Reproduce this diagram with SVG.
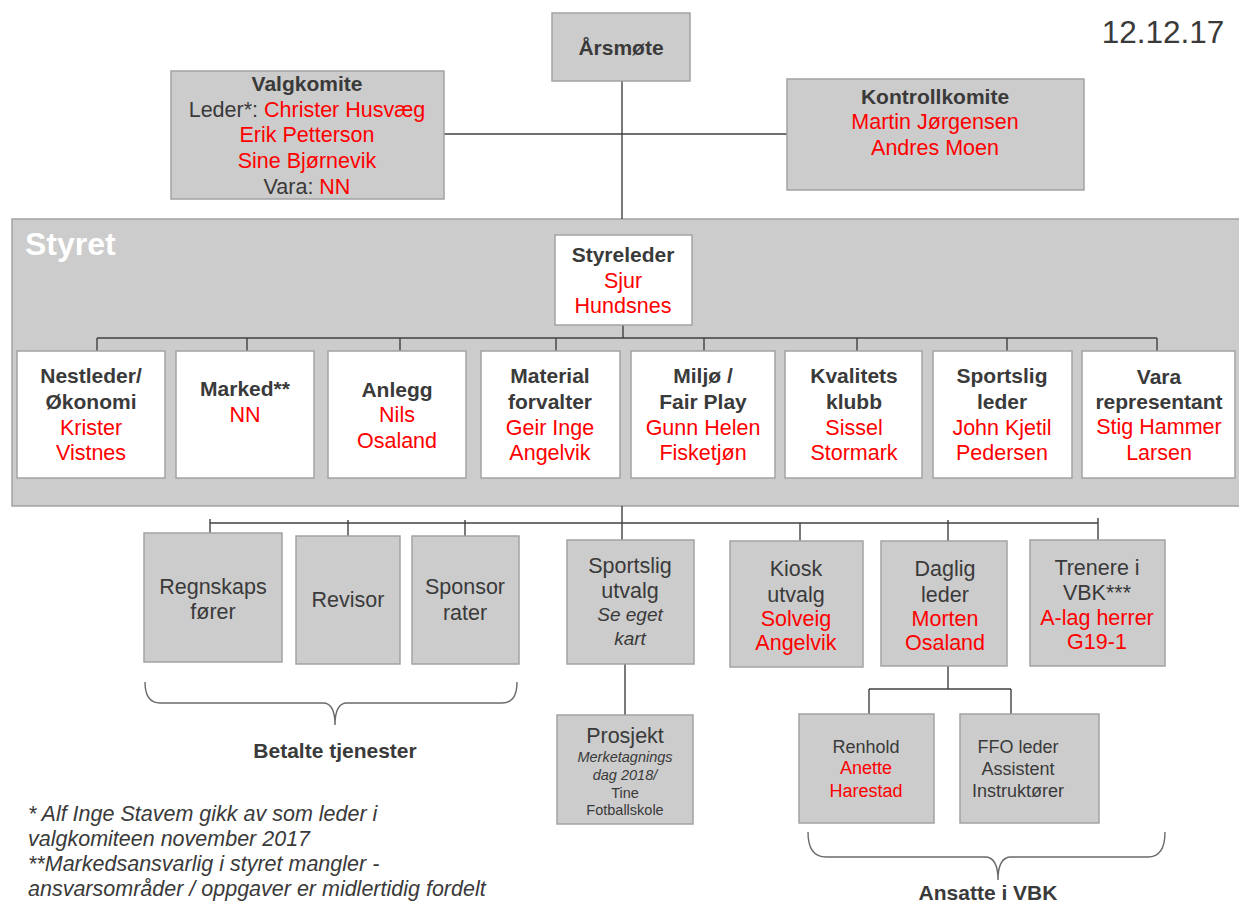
<svg xmlns="http://www.w3.org/2000/svg" width="1239" height="904" viewBox="0 0 1239 904">
<style>
text{font-family:"Liberation Sans",Arial,sans-serif;fill:#3a3a3a;text-anchor:middle}
.g{fill:#cccccc;stroke:#a3a3a3;stroke-width:1.5}
.w{fill:#ffffff;stroke:#a3a3a3;stroke-width:1.5}
.b{font-weight:bold;font-size:21px}
.t{font-size:21.5px}
.r{fill:#ff0000}
.i{font-style:italic}
.s{font-size:18px}
.xs{font-size:14.5px}
.ln{stroke:#404040;stroke-width:1.4;fill:none}
.br{stroke:#6a6a6a;stroke-width:1.4;fill:none}
</style>
<rect width="1239" height="904" fill="#ffffff"/>
<text x="1163" y="43" style="font-size:31.5px">12.12.17</text>
<rect id="styret-band" x="12" y="219" width="1240" height="287" class="g"/>
<text x="25" y="255" style="font-size:32px;font-weight:bold;fill:#ffffff;text-anchor:start">Styret</text>
<g id="connectors">
<line class="ln" x1="622" y1="81" x2="622" y2="219"/>
<line class="ln" x1="444" y1="134" x2="787" y2="134"/>
<line class="ln" x1="623" y1="325" x2="623" y2="338"/>
<line class="ln" x1="97" y1="338" x2="1157" y2="338"/>
<line class="ln" x1="97" y1="338" x2="97" y2="351"/>
<line class="ln" x1="247" y1="338" x2="247" y2="351"/>
<line class="ln" x1="400" y1="338" x2="400" y2="351"/>
<line class="ln" x1="556" y1="338" x2="556" y2="351"/>
<line class="ln" x1="704" y1="338" x2="704" y2="351"/>
<line class="ln" x1="857" y1="338" x2="857" y2="351"/>
<line class="ln" x1="1007" y1="338" x2="1007" y2="351"/>
<line class="ln" x1="1157" y1="338" x2="1157" y2="351"/>
<line class="ln" x1="622" y1="506" x2="622" y2="540"/>
<line class="ln" x1="210" y1="523" x2="1098" y2="523"/>
<line class="ln" x1="210" y1="519" x2="210" y2="533"/>
<line class="ln" x1="348" y1="520" x2="348" y2="536"/>
<line class="ln" x1="465" y1="520" x2="465" y2="536"/>
<line class="ln" x1="800" y1="523" x2="800" y2="541"/>
<line class="ln" x1="948" y1="520" x2="948" y2="541"/>
<line class="ln" x1="1098" y1="518" x2="1098" y2="540"/>
<line class="ln" x1="625" y1="664" x2="625" y2="715"/>
<line class="ln" x1="948" y1="666" x2="948" y2="689"/>
<line class="ln" x1="869" y1="689" x2="1011" y2="689"/>
<line class="ln" x1="869" y1="689" x2="869" y2="714"/>
<line class="ln" x1="1011" y1="689" x2="1011" y2="714"/>
<path class="br" d="M145,682 Q145,703 160,703 L323,703 Q335,703 335,725 Q335,703 347,703 L502,703 Q517,703 517,682"/>
<path class="br" d="M808,832 Q808,857 826,857 L985,857 Q998,857 998,880 Q998,857 1011,857 L1148,857 Q1165,857 1165,832"/>
</g>
<g id="arsmote"><rect x="552" y="13" width="138" height="68" class="g"/><text x="621" y="55" class="b">Årsmøte</text></g>
<g id="valgkomite"><rect x="171" y="71" width="273" height="128" class="g"/>
<text x="307" y="91" class="b">Valgkomite</text>
<text x="307" y="117" class="t">Leder*: <tspan class="r">Christer Husvæg</tspan></text>
<text x="307" y="142" class="t r">Erik Petterson</text>
<text x="307" y="168" class="t r">Sine Bjørnevik</text>
<text x="307" y="194" class="t">Vara: <tspan class="r">NN</tspan></text></g>
<g id="kontrollkomite"><rect x="787" y="79" width="297" height="111" class="g"/>
<text x="935" y="104" class="b">Kontrollkomite</text>
<text x="935" y="129" class="t r">Martin Jørgensen</text>
<text x="935" y="155" class="t r">Andres Moen</text></g>
<g id="styreleder"><rect x="555" y="235" width="137" height="90" class="w"/>
<text x="623" y="262" class="b">Styreleder</text>
<text x="623" y="288" class="t r">Sjur</text>
<text x="623" y="313" class="t r">Hundsnes</text></g>
<g id="nestleder"><rect x="17" y="351" width="148" height="127" class="w"/>
<text x="91" y="383" class="b">Nestleder/</text><text x="91" y="409" class="b">Økonomi</text>
<text x="91" y="435" class="t r">Krister</text><text x="91" y="460" class="t r">Vistnes</text></g>
<g id="marked"><rect x="176" y="351" width="138" height="127" class="w"/>
<text x="245" y="396" class="b">Marked**</text><text x="245" y="422" class="t r">NN</text></g>
<g id="anlegg"><rect x="328" y="351" width="138" height="127" class="w"/>
<text x="397" y="397" class="b">Anlegg</text><text x="397" y="422" class="t r">Nils</text><text x="397" y="448" class="t r">Osaland</text></g>
<g id="material"><rect x="481" y="351" width="139" height="127" class="w"/>
<text x="550" y="383" class="b">Material</text><text x="550" y="409" class="b">forvalter</text>
<text x="550" y="435" class="t r">Geir Inge</text><text x="550" y="460" class="t r">Angelvik</text></g>
<g id="miljo"><rect x="631" y="351" width="144" height="127" class="w"/>
<text x="703" y="383" class="b">Miljø /</text><text x="703" y="409" class="b">Fair Play</text>
<text x="703" y="435" class="t r">Gunn Helen</text><text x="703" y="460" class="t r">Fisketjøn</text></g>
<g id="kvalitets"><rect x="785" y="351" width="137" height="127" class="w"/>
<text x="854" y="383" class="b">Kvalitets</text><text x="854" y="409" class="b">klubb</text>
<text x="854" y="435" class="t r">Sissel</text><text x="854" y="460" class="t r">Stormark</text></g>
<g id="sportslig-leder"><rect x="933" y="351" width="139" height="127" class="w"/>
<text x="1002" y="383" class="b">Sportslig</text><text x="1002" y="409" class="b">leder</text>
<text x="1002" y="435" class="t r">John Kjetil</text><text x="1002" y="460" class="t r">Pedersen</text></g>
<g id="vara"><rect x="1082" y="351" width="153" height="127" class="w"/>
<text x="1159" y="384" class="b">Vara</text><text x="1159" y="409" class="b">representant</text>
<text x="1159" y="434" class="t r">Stig Hammer</text><text x="1159" y="460" class="t r">Larsen</text></g>
<g id="regnskap"><rect x="144" y="533" width="138" height="129" class="g"/>
<text x="213" y="594" class="t">Regnskaps</text><text x="213" y="619" class="t">fører</text></g>
<g id="revisor"><rect x="296" y="536" width="104" height="128" class="g"/>
<text x="348" y="607" class="t">Revisor</text></g>
<g id="sponsor"><rect x="412" y="536" width="107" height="128" class="g"/>
<text x="465" y="594" class="t">Sponsor</text><text x="465" y="620" class="t">rater</text></g>
<g id="sportslig-utvalg"><rect x="567" y="540" width="127" height="124" class="g"/>
<text x="630" y="573" class="t">Sportslig</text><text x="630" y="598" class="t">utvalg</text>
<text x="630" y="621" class="i" style="font-size:19px">Se eget</text><text x="630" y="645" class="i" style="font-size:19px">kart</text></g>
<g id="kiosk"><rect x="730" y="541" width="133" height="126" class="g"/>
<text x="796" y="576" class="t">Kiosk</text><text x="796" y="602" class="t">utvalg</text>
<text x="796" y="626" class="t r">Solveig</text><text x="796" y="650" class="t r">Angelvik</text></g>
<g id="daglig-leder"><rect x="881" y="541" width="126" height="125" class="g"/>
<text x="945" y="576" class="t">Daglig</text><text x="945" y="602" class="t">leder</text>
<text x="945" y="626" class="t r">Morten</text><text x="945" y="650" class="t r">Osaland</text></g>
<g id="trenere"><rect x="1030" y="540" width="135" height="126" class="g"/>
<text x="1097" y="575" class="t">Trenere i</text><text x="1097" y="600" class="t">VBK***</text>
<text x="1097" y="625" class="t r">A-lag herrer</text><text x="1097" y="649" class="t r">G19-1</text></g>
<g id="prosjekt"><rect x="557" y="715" width="136" height="109" class="g"/>
<text x="625" y="743" class="t">Prosjekt</text>
<text x="625" y="762" class="xs i">Merketagnings</text><text x="625" y="780" class="xs i">dag 2018/</text>
<text x="625" y="798" class="xs">Tine</text><text x="625" y="815" class="xs">Fotballskole</text></g>
<g id="renhold"><rect x="799" y="714" width="135" height="109" class="g"/>
<text x="866" y="753" class="s">Renhold</text><text x="866" y="774" class="s r">Anette</text><text x="866" y="797" class="s r">Harestad</text></g>
<g id="ffo"><rect x="960" y="714" width="139" height="109" class="g"/>
<text x="1018" y="753" class="s">FFO leder</text><text x="1018" y="775" class="s">Assistent</text><text x="1018" y="797" class="s">Instruktører</text></g>
<text x="335" y="758" class="b">Betalte tjenester</text>
<text x="988" y="900" class="b">Ansatte i VBK</text>
<g id="footnotes" class="i" style="font-size:21.5px">
<text x="28" y="821" style="text-anchor:start">* Alf Inge Stavem gikk av som leder i</text>
<text x="28" y="846" style="text-anchor:start">valgkomiteen november 2017</text>
<text x="28" y="871" style="text-anchor:start">**Markedsansvarlig i styret mangler -</text>
<text x="28" y="896" style="text-anchor:start">ansvarsområder / oppgaver er midlertidig fordelt</text>
</g>
</svg>
